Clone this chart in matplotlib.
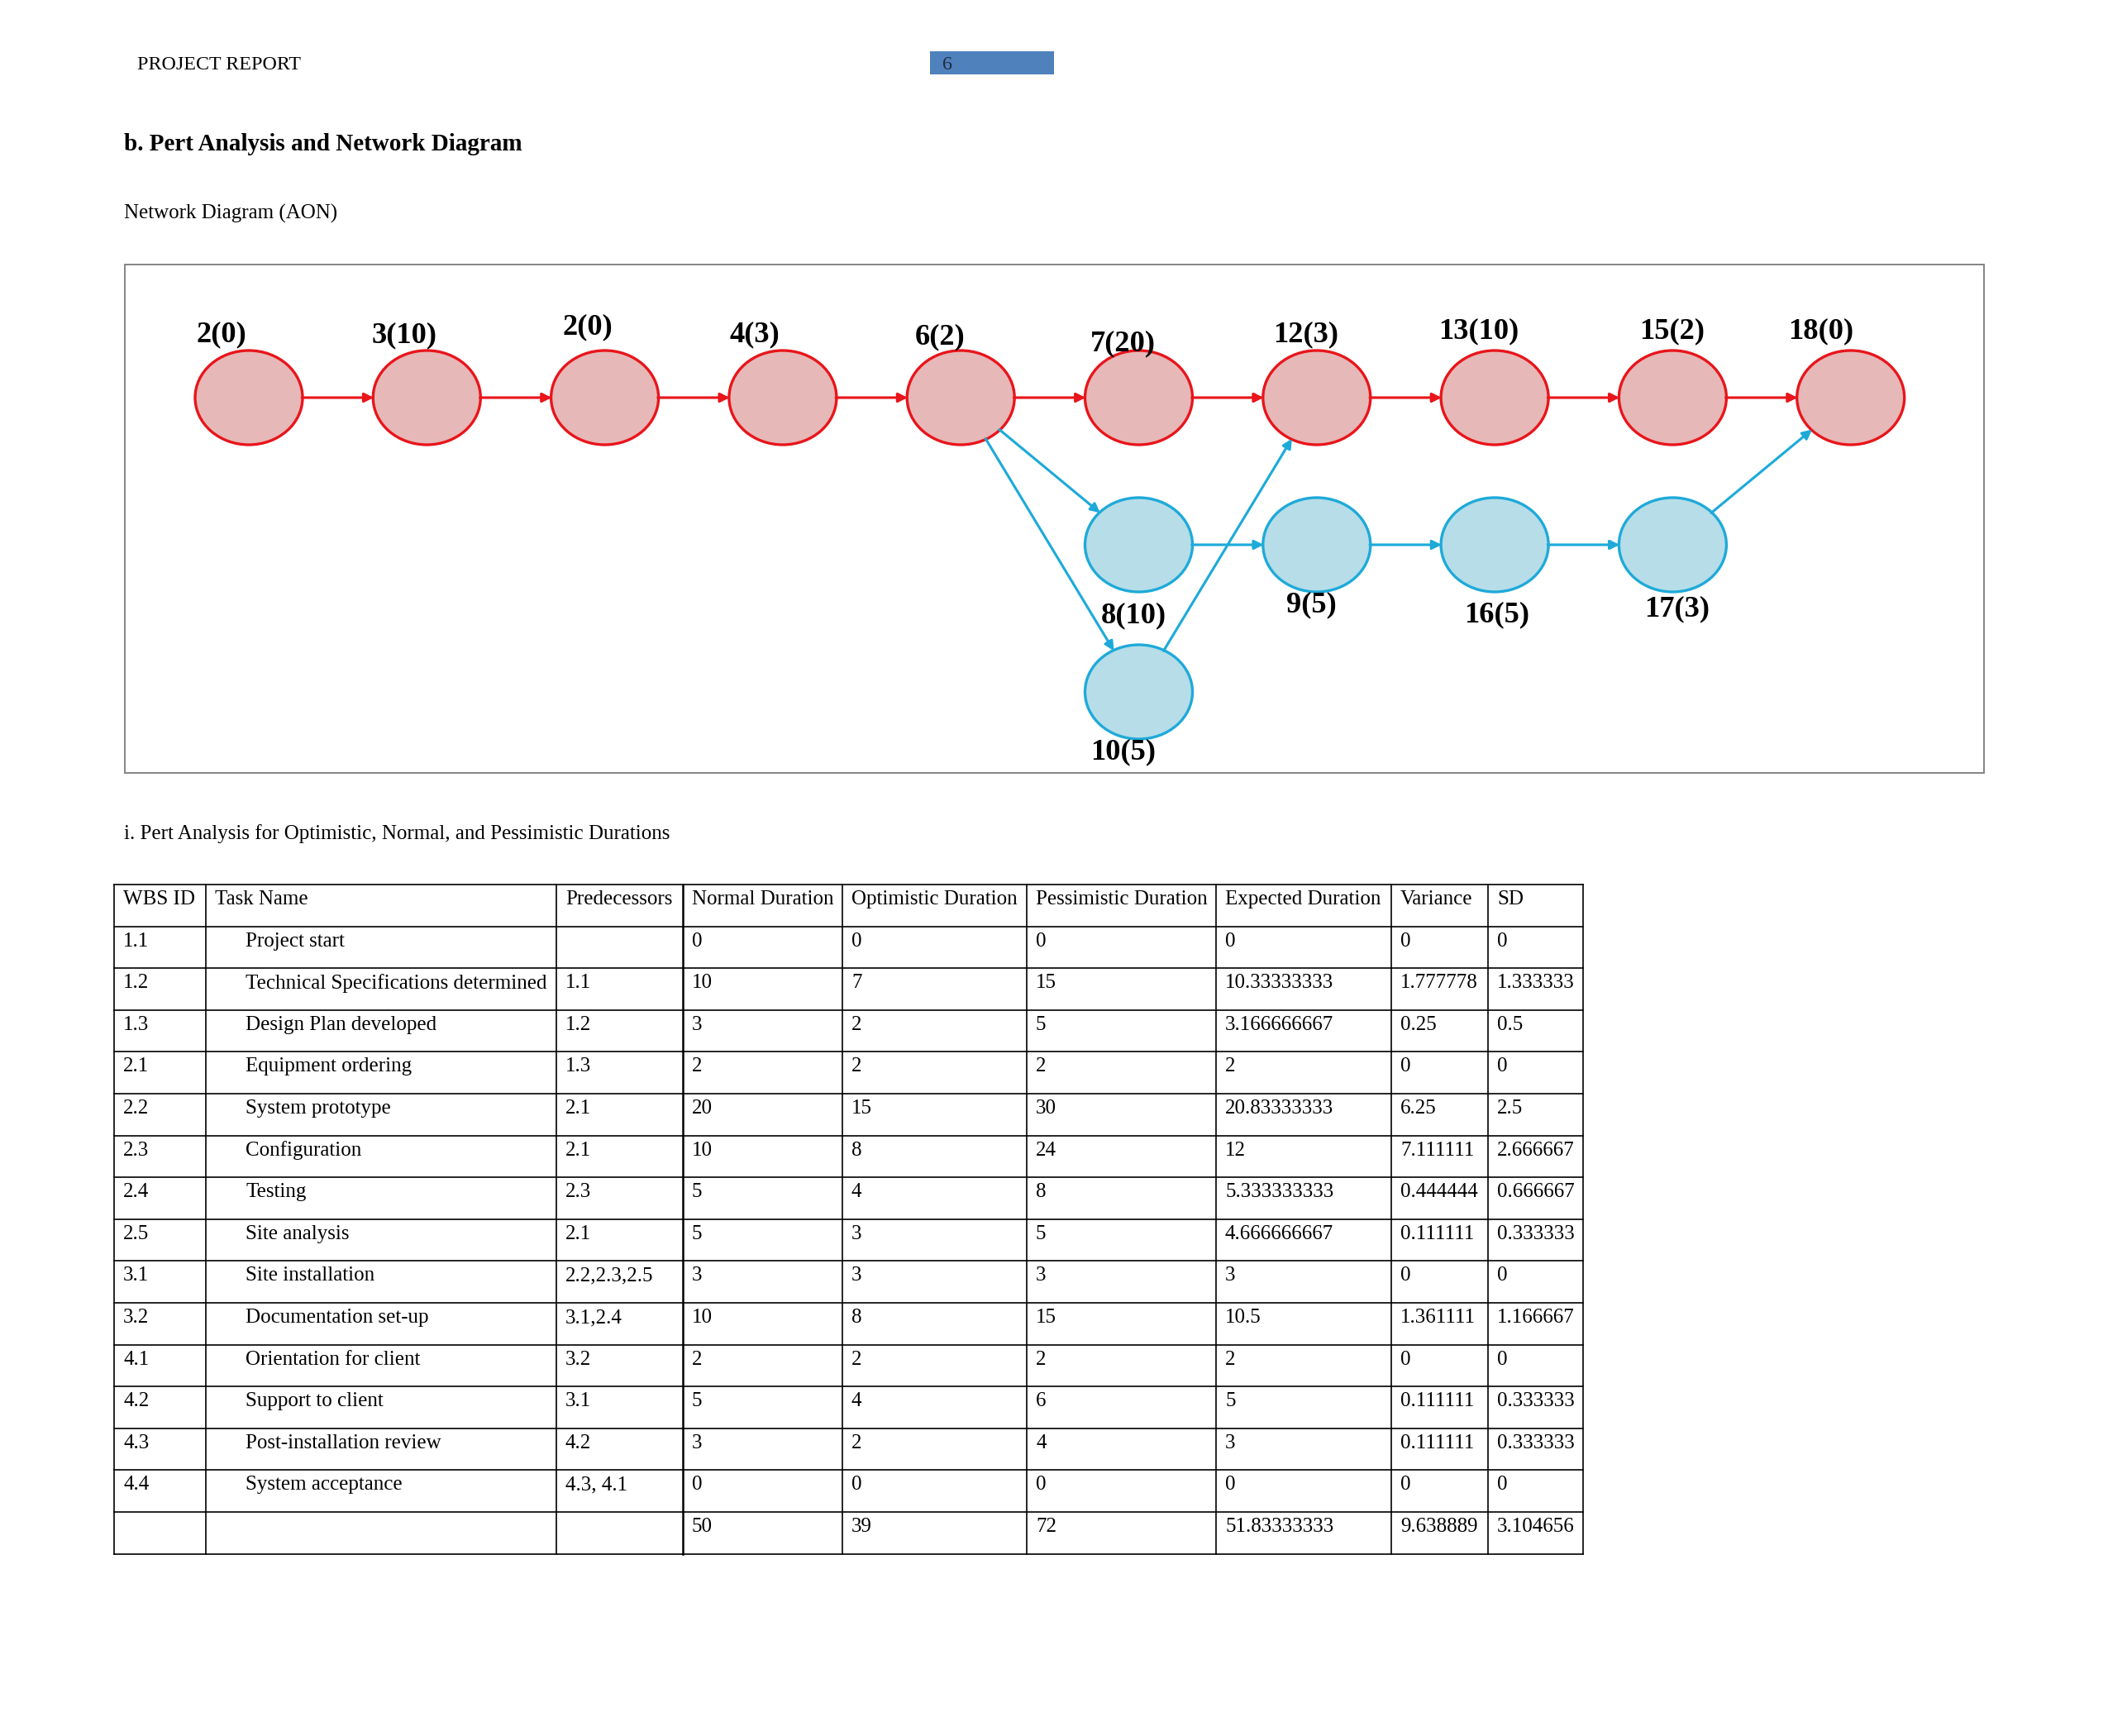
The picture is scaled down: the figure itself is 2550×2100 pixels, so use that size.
import matplotlib
matplotlib.use("Agg")
import matplotlib.pyplot as plt
from matplotlib.patches import Ellipse, Rectangle, FancyArrowPatch

plt.rcParams['font.family'] = ['Liberation Serif', 'DejaVu Serif']

# network diagram (AON)
node_labels = ['2(0)', '3(10)', '2(0)', '4(3)', '6(2)', '7(20)', '12(3)', '13(10)',
               '15(2)', '18(0)', '8(10)', '9(5)', '16(5)', '17(3)', '10(5)']
node_cols = [0, 1, 2, 3, 4, 5, 6, 7, 8, 9, 5, 6, 7, 8, 5]
node_rows = [0, 0, 0, 0, 0, 0, 0, 0, 0, 0, 1, 1, 1, 1, 2]
node_critical = [True] * 10 + [False] * 5
edges = [(0, 1), (1, 2), (2, 3), (3, 4), (4, 5), (5, 6), (6, 7), (7, 8), (8, 9),
         (4, 10), (4, 14), (10, 11), (14, 6), (11, 12), (12, 13), (13, 9)]
# label offsets (px) relative to node centre
label_dx = [-33, -27, -21, -34, -25, -19, -13, -19, -1, -36, -6, -6, 3, 5, -19]
label_dy = [-76, -75, -85, -76, -73, -65, -76, -80, -80, -80, 86, 73, 85, 78, 73]

# PERT table
headers = ['WBS ID', 'Task Name', 'Predecessors', 'Normal Duration', 'Optimistic Duration',
           'Pessimistic Duration', 'Expected Duration', 'Variance', 'SD']
wbs_ids = ['1.1', '1.2', '1.3', '2.1', '2.2', '2.3', '2.4', '2.5', '3.1', '3.2',
           '4.1', '4.2', '4.3', '4.4', '']
task_names = ['Project start', 'Technical Specifications determined', 'Design Plan developed',
              'Equipment ordering', 'System prototype', 'Configuration', 'Testing',
              'Site analysis', 'Site installation', 'Documentation set-up',
              'Orientation for client', 'Support to client', 'Post-installation review',
              'System acceptance', '']
predecessors = ['', '1.1', '1.2', '1.3', '2.1', '2.1', '2.3', '2.1', '2.2,2.3,2.5',
                '3.1,2.4', '3.2', '3.1', '4.2', '4.3, 4.1', '']
normal = ['0', '10', '3', '2', '20', '10', '5', '5', '3', '10', '2', '5', '3', '0', '50']
optimistic = ['0', '7', '2', '2', '15', '8', '4', '3', '3', '8', '2', '4', '2', '0', '39']
pessimistic = ['0', '15', '5', '2', '30', '24', '8', '5', '3', '15', '2', '6', '4', '0', '72']
expected = ['0', '10.33333333', '3.166666667', '2', '20.83333333', '12', '5.333333333',
            '4.666666667', '3', '10.5', '2', '5', '3', '0', '51.83333333']
variance = ['0', '1.777778', '0.25', '0', '6.25', '7.111111', '0.444444', '0.111111',
            '0', '1.361111', '0', '0.111111', '0.111111', '0', '9.638889']
sd = ['0', '1.333333', '0.5', '0', '2.5', '2.666667', '0.666667', '0.333333', '0',
      '1.166667', '0', '0.333333', '0.333333', '0', '3.104656']

fig = plt.figure(figsize=(17, 14), dpi=150)
ax = fig.add_axes([0, 0, 1, 1])
ax.set_xlim(0, 2550)
ax.set_ylim(2100, 0)
ax.axis('off')

# page header
ax.text(166, 79, 'PROJECT REPORT', fontsize=11.5, va='center', ha='left')
ax.add_patch(Rectangle((1125, 62), 150, 28, facecolor='#4f81bd', edgecolor='none'))
ax.text(1140, 79, '6', fontsize=11.5, va='center', ha='left', color='#1f2d3d')

ax.text(150, 174, 'b. Pert Analysis and Network Diagram', fontsize=14, fontweight='bold',
        va='center', ha='left')
ax.text(150, 258, 'Network Diagram (AON)', fontsize=12, va='center', ha='left')

# diagram frame
ax.add_patch(Rectangle((151, 320), 2249, 615, facecolor='none', edgecolor='#808080', lw=0.9))

x0, dx = 301, 215.3
y0, dy = 481, 178
red_edge, red_fill = '#e8151b', '#e6b8b7'
blue_edge, blue_fill = '#1eaad9', '#b7dde8'

ells = []
for i, lab in enumerate(node_labels):
    cx = x0 + node_cols[i] * dx
    cy = y0 + node_rows[i] * dy
    ec, fc = (red_edge, red_fill) if node_critical[i] else (blue_edge, blue_fill)
    e = Ellipse((cx, cy), 130, 114, facecolor=fc, edgecolor=ec, lw=1.6, zorder=3)
    ax.add_patch(e)
    ells.append(e)
    ax.text(cx + label_dx[i], cy + label_dy[i], lab, fontsize=17.5, fontweight='bold',
            ha='center', va='center', zorder=5)

for a, b in edges:
    col = red_edge if node_critical[a] and node_critical[b] else blue_edge
    arr = FancyArrowPatch(ells[a].center, ells[b].center, patchA=ells[a], patchB=ells[b],
                          shrinkA=0, shrinkB=0, arrowstyle='-|>', mutation_scale=11,
                          color=col, lw=1.5, zorder=4)
    ax.add_patch(arr)

ax.text(150, 1009, 'i. Pert Analysis for Optimistic, Normal, and Pessimistic Durations',
        fontsize=12, va='center', ha='left')

# table
col_edges = [138, 249, 673, 826, 1019, 1242, 1471, 1683, 1800, 1915]
top, row_h = 1070, 50.6
columns = [wbs_ids, task_names, predecessors, normal, optimistic, pessimistic,
           expected, variance, sd]
n_rows = len(wbs_ids) + 1
for r in range(n_rows + 1):
    ax.plot([col_edges[0], col_edges[-1]], [top + r * row_h] * 2, color='black', lw=0.8)
for c, xe in enumerate(col_edges):
    ax.plot([xe, xe], [top, top + n_rows * row_h], color='black',
            lw=1.2 if c == 3 else 0.8)

for c, h in enumerate(headers):
    ax.text(col_edges[c] + 11, top + 18, h, fontsize=12, va='center', ha='left')
for c, vals in enumerate(columns):
    indent = 48 if c == 1 else 11
    for r, v in enumerate(vals):
        ax.text(col_edges[c] + indent, top + (r + 1) * row_h + 18, v, fontsize=12,
                va='center', ha='left')

fig.savefig('out.png', dpi=150, facecolor='white')
